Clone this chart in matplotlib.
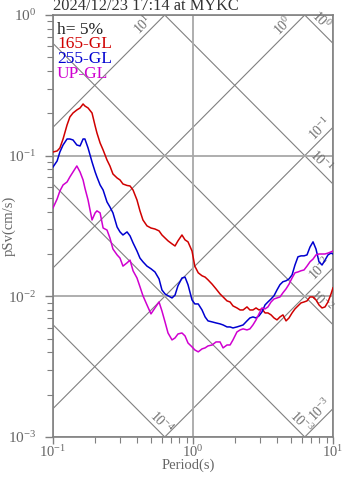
import numpy as np
import matplotlib
matplotlib.use('Agg')
import matplotlib.pyplot as plt
from matplotlib.ticker import LogLocator, NullFormatter

plt.rcParams['font.family'] = 'Liberation Serif'
plt.rcParams['mathtext.fontset'] = 'custom'
plt.rcParams['mathtext.rm'] = 'Liberation Serif'
plt.rcParams['mathtext.it'] = 'Liberation Serif:italic'
plt.rcParams['mathtext.bf'] = 'Liberation Serif:bold'

# pseudo velocity response spectra, h = 5%
period = [0.100, 0.107, 0.112, 0.118, 0.126, 0.132, 0.139, 0.148, 0.156, 0.164,
          0.169, 0.178, 0.190, 0.200, 0.206, 0.217, 0.228, 0.243, 0.255, 0.268,
          0.287, 0.301, 0.316, 0.338, 0.355, 0.373, 0.398, 0.418, 0.439, 0.469,
          0.501, 0.535, 0.572, 0.600, 0.631, 0.663, 0.708, 0.744, 0.781, 0.834,
          0.877, 0.921, 0.984, 1.03, 1.09, 1.16, 1.22, 1.28, 1.37, 1.46,
          1.56, 1.64, 1.75, 1.84, 1.93, 2.06, 2.17, 2.28, 2.43, 2.55,
          2.68, 2.82, 2.96, 3.11, 3.27, 3.43, 3.61, 3.79, 3.98, 4.18,
          4.39, 4.62, 4.85, 5.10, 5.35, 5.62, 5.91, 6.21, 6.52, 6.85,
          7.20, 7.56, 7.94, 8.35, 8.77, 9.21, 9.68, 10.0]

sv_165 = [0.1062, 0.1080, 0.1134, 0.1314, 0.1653, 0.1884, 0.2011, 0.2113, 0.2183, 0.2331,
          0.2255, 0.2183, 0.2011, 0.1626, 0.1450, 0.1231, 0.1098, 0.0932, 0.0845, 0.0741,
          0.0694, 0.0672, 0.0629, 0.0614, 0.0609, 0.0570, 0.0484, 0.0405, 0.0349, 0.0317,
          0.0306, 0.0301, 0.0292, 0.0273, 0.0260, 0.0248, 0.0236, 0.0228, 0.0248, 0.0273,
          0.0252, 0.0244, 0.0210, 0.0164, 0.0147, 0.0140, 0.0137, 0.0131, 0.0122, 0.0113,
          0.0104, 0.0099, 0.00928, 0.00912, 0.00855, 0.00827, 0.0080, 0.0080, 0.00841, 0.0080,
          0.0080, 0.00827, 0.0080, 0.00814, 0.00762, 0.00762, 0.00738, 0.00702, 0.0068, 0.00714,
          0.00738, 0.00669, 0.00702, 0.00762, 0.00814, 0.00855, 0.00898, 0.00912, 0.00928, 0.0099,
          0.0099, 0.00943, 0.00869, 0.00827, 0.00841, 0.00912, 0.0104, 0.0115]

sv_255 = [0.0831, 0.0917, 0.1062, 0.1191, 0.1314, 0.1314, 0.1293, 0.1191, 0.1172, 0.1314,
          0.1314, 0.1134, 0.0902, 0.0766, 0.0706, 0.0619, 0.0570, 0.0469, 0.0432, 0.0392,
          0.0311, 0.0287, 0.0273, 0.0287, 0.0269, 0.0240, 0.0210, 0.0187, 0.0176, 0.0164,
          0.0157, 0.0149, 0.0133, 0.0111, 0.0104, 0.0101, 0.00974, 0.0102, 0.0119, 0.0135,
          0.0137, 0.0121, 0.00943, 0.00883, 0.00883, 0.0080, 0.00714, 0.00669, 0.00658, 0.00647,
          0.00637, 0.00626, 0.00606, 0.00606, 0.00596, 0.00606, 0.00616, 0.00626, 0.00669, 0.00702,
          0.00714, 0.00702, 0.00726, 0.00775, 0.00869, 0.00912, 0.00958, 0.0101, 0.0111, 0.0121,
          0.0127, 0.0129, 0.0133, 0.0142, 0.0167, 0.0191, 0.0194, 0.0194, 0.0197, 0.0224,
          0.0244, 0.0217, 0.0176, 0.0167, 0.0181, 0.0197, 0.0203, 0.0200]

sv_up = [0.0425, 0.0492, 0.0561, 0.0619, 0.0650, 0.0706, 0.0766, 0.0845, 0.0766, 0.0672,
         0.0589, 0.0484, 0.0349, 0.0392, 0.0405, 0.0392, 0.0306, 0.0296, 0.0260, 0.0217,
         0.0197, 0.0187, 0.0164, 0.0173, 0.0181, 0.0152, 0.0135, 0.0117, 0.0101, 0.00869,
         0.0075, 0.00827, 0.00912, 0.00787, 0.00658, 0.00549, 0.0049, 0.00506, 0.0054, 0.00549,
         0.00523, 0.00466, 0.00437, 0.00416, 0.00403, 0.00423, 0.0043, 0.00444, 0.00451, 0.00474,
         0.00474, 0.0043, 0.00451, 0.00451, 0.0049, 0.00558, 0.00577, 0.00587, 0.00577, 0.00587,
         0.00626, 0.0068, 0.0075, 0.00827, 0.00814, 0.00841, 0.00912, 0.00958, 0.00974, 0.0099,
         0.0106, 0.0113, 0.0122, 0.0135, 0.0147, 0.0149, 0.0152, 0.0154, 0.0164, 0.0176,
         0.0184, 0.0197, 0.0200, 0.0200, 0.0200, 0.0203, 0.0207, 0.0210]

comps = ['165-GL', '255-GL', 'UP-GL']
colors = ['#d00000', '#0000d0', '#d000d0']

# tripartite guide lines: acceleration (cm/s^2) and displacement (cm)
acc_levels = [10, 1, 0.1, 0.01, 0.001]
acc_labels = ['$10^{1}$', '$10^{0}$', '$10^{-1}$', '$10^{-2}$', '$10^{-3}$']
disp_levels = [1, 0.1, 0.01, 0.001, 0.0001]
disp_labels = ['$10^{0}$', '$10^{-1}$', '$10^{-2}$', '$10^{-3}$', '$10^{-4}$']

gray = '#808080'
lgray = '#707070'
fig = plt.figure(figsize=(3.47, 4.78), dpi=100)
ax = fig.add_axes([53/347, 41/478, 280/347, 422/478])
ax.set_xscale('log'); ax.set_yscale('log')
ax.set_xlim(0.1, 10); ax.set_ylim(1e-3, 1)

ax.grid(True, which='major', color='#a8a8a8', lw=1.3, zorder=0)

T = np.logspace(-1.2, 1.2, 300)
for a, lab in zip(acc_levels, acc_labels):
    ax.plot(T, a*T/(2*np.pi), color=gray, lw=0.8, zorder=1)
    tl = min(0.77*2*np.pi/a, 8.9)
    ax.text(tl, a*tl/(2*np.pi), lab, rotation=45, rotation_mode='anchor',
            ha='center', va='bottom', fontsize=10, color=lgray)
for d, lab in zip(disp_levels, disp_labels):
    ax.plot(T, 2*np.pi*d/T, color=gray, lw=0.8, zorder=1)
    tl = min(0.86*2*np.pi*d/1e-3, 7.5)
    ax.text(tl, 2*np.pi*d/tl, lab, rotation=-45, rotation_mode='anchor',
            ha='center', va='bottom', fontsize=10, color=lgray)

for sv, c in zip([sv_165, sv_255, sv_up], colors):
    ax.plot(period, sv, color=c, lw=1.1, zorder=3)

for s in ax.spines.values():
    s.set_color(gray); s.set_linewidth(1.2)
ax.xaxis.set_minor_locator(LogLocator(subs=np.arange(2, 10)))
ax.yaxis.set_minor_locator(LogLocator(subs=np.arange(2, 10)))
ax.xaxis.set_minor_formatter(NullFormatter())
ax.yaxis.set_minor_formatter(NullFormatter())
ax.tick_params(which='major', length=6, width=1, color=gray, labelcolor='#666666',
               labelsize=11)
ax.tick_params(axis='x', which='major', length=5, pad=0, labelsize=10.5)
ax.tick_params(axis='y', which='major', pad=6)
ax.tick_params(which='minor', length=4, width=0.8, color=gray)

fig.text(188/347, 1 - 469/478, 'Period(s)', ha='center', va='baseline',
         fontsize=10.5, color='#666666')
fig.text(9/347, 1 - 226/478, 'pSv(cm/s)', ha='center', va='center', rotation=90,
         fontsize=10.5, color='#666666')
fig.text(53/347, 1 - 10.5/478, '2024/12/23 17:14 at MYKC', ha='left', va='baseline',
         fontsize=11.8, color='#333333')

fig.text(57/347, 1 - 33.5/478, 'h= 5%', ha='left', va='baseline', fontsize=12.5,
         color='#222222')
for i, (name, c) in enumerate(zip(comps, colors)):
    fig.text(57/347, 1 - (48.5 + 14.8*i)/478, name, ha='left', va='baseline',
             fontsize=12.5, color=c)

fig.savefig('out.png', dpi=100)
